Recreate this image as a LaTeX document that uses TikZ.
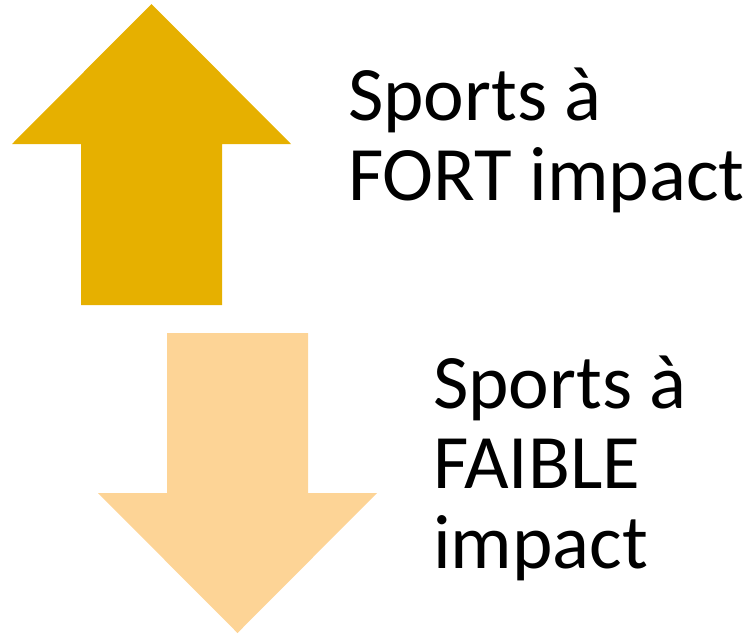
\documentclass[tikz,border=0pt]{standalone}
\usepackage{fontspec}
\setmainfont{Carlito}
\definecolor{upgold}{RGB}{230,176,0}
\definecolor{downpeach}{RGB}{253,212,150}
\tikzset{
  label text/.style={anchor=base west, inner sep=0pt, align=left,
    font=\fontsize{77}{80}\selectfont, text=black}
}
\begin{document}
\begin{tikzpicture}[x=1pt, y=-1pt]
  \useasboundingbox (0,0) rectangle (754,633);
  % high-impact arrow (pointing up)
  \fill[upgold] (151.5,4) -- (291,144) -- (222,144) -- (222,305)
    -- (81,305) -- (81,144) -- (12,144) -- cycle;
  % low-impact arrow (pointing down)
  \fill[downpeach] (167,333) -- (308,333) -- (308,493) -- (377,493)
    -- (237.5,633) -- (98,493) -- (167,493) -- cycle;
  % anchors sit on the baseline of each block's last line
  \node[label text] (fort) at (348,200) {Sports à\\FORT impact};
  \node[label text] (faible) at (433,568) {Sports à\\FAIBLE\\impact};
\end{tikzpicture}
\end{document}
